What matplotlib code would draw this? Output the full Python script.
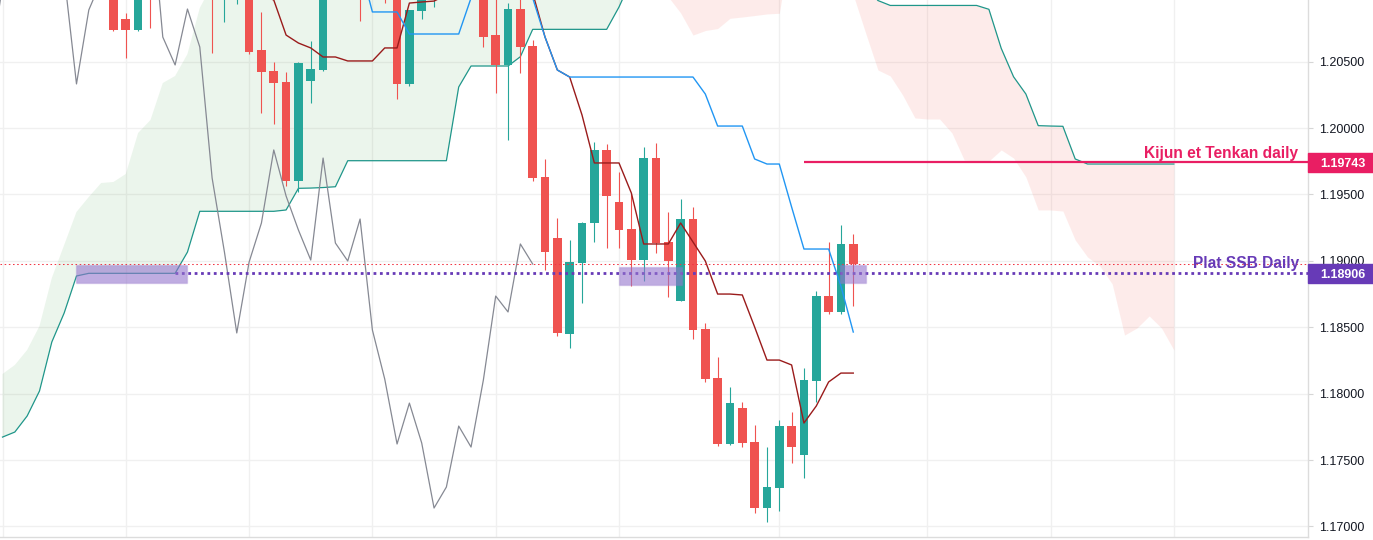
import matplotlib.pyplot as plt
from matplotlib.patches import Rectangle
import numpy as np

plt.rcParams['font.family'] = ['Liberation Sans', 'DejaVu Sans']

# daily EURUSD bars, bar index 9..69 (older bars sit above the visible range)
first_bar = 9
opens = [1.21077, 1.20821, 1.20738, 1.21115, 1.21002, 1.21341, 1.21792, 1.21416, 1.21679, 1.21077,
         1.21378, 1.21491, 1.20584, 1.20429, 1.20347, 1.19601, 1.20354, 1.20437, 1.21077, 1.21265,
         1.21115, 1.21002, 1.21341, 1.21152, 1.20332, 1.20881, 1.21107, 1.21303, 1.21717, 1.21566,
         1.21717, 1.20700, 1.20475, 1.20896, 1.20618, 1.19631, 1.19172, 1.18449, 1.18984, 1.19285,
         1.19835, 1.19443, 1.19240, 1.19006, 1.19774, 1.19142, 1.18698, 1.19315, 1.18487, 1.18118,
         1.17621, 1.17892, 1.17636, 1.17139, 1.17289, 1.17756, 1.17538, 1.18095, 1.18735, 1.18615,
         1.19127]
highs = [1.21190, 1.20866, 1.21152, 1.21228, 1.21416, 1.21898, 1.21838, 1.21762, 1.21687, 1.21491,
         1.21551, 1.21506, 1.20874, 1.20497, 1.20422, 1.20497, 1.20655, 1.21265, 1.21341, 1.21303,
         1.21228, 1.21446, 1.21687, 1.21190, 1.20889, 1.21190, 1.21416, 1.21792, 1.21830, 1.22432,
         1.21853, 1.21077, 1.20941, 1.21130, 1.20663, 1.19767, 1.19323, 1.19157, 1.19292, 1.19895,
         1.19880, 1.19669, 1.19511, 1.19857, 1.19887, 1.19368, 1.19466, 1.19405, 1.18532, 1.18276,
         1.18050, 1.17937, 1.17764, 1.17598, 1.17801, 1.17862, 1.18193, 1.18773, 1.19142, 1.19270,
         1.19202]
lows = [1.20731, 1.20527, 1.20731, 1.20753, 1.20979, 1.21303, 1.21265, 1.21341, 1.20568, 1.20798,
        1.20934, 1.20557, 1.20113, 1.20030, 1.19563, 1.19518, 1.20188, 1.20429, 1.21024, 1.21039,
        1.20806, 1.20979, 1.20941, 1.20219, 1.20316, 1.20821, 1.20911, 1.21190, 1.21416, 1.21491,
        1.20610, 1.20264, 1.19910, 1.20414, 1.19601, 1.18931, 1.18434, 1.18344, 1.18682, 1.19142,
        1.19097, 1.19097, 1.18810, 1.18848, 1.19059, 1.18728, 1.18698, 1.18411, 1.18088, 1.17606,
        1.17613, 1.17598, 1.17101, 1.17033, 1.17116, 1.17478, 1.17365, 1.17937, 1.18600, 1.18600,
        1.18660]
closes = [1.20738, 1.20738, 1.21039, 1.21002, 1.21341, 1.21792, 1.21416, 1.21679, 1.21077, 1.21378,
          1.21491, 1.20576, 1.20422, 1.20339, 1.19601, 1.20490, 1.20444, 1.21077, 1.21265, 1.21115,
          1.21002, 1.21341, 1.21152, 1.20332, 1.20889, 1.21107, 1.21303, 1.21717, 1.21566, 1.21717,
          1.20685, 1.20475, 1.20896, 1.20610, 1.19624, 1.19066, 1.18457, 1.18991, 1.19285, 1.19835,
          1.19488, 1.19232, 1.19006, 1.19774, 1.19134, 1.18999, 1.19315, 1.18479, 1.18110, 1.17621,
          1.17929, 1.17628, 1.17139, 1.17297, 1.17756, 1.17598, 1.18103, 1.18735, 1.18615, 1.19127,
          1.18976]

# ichimoku lines
tenkan_start = 20
tenkan = [1.21190, 1.21002, 1.20964, 1.20700, 1.20640, 1.20603, 1.20535, 1.20535, 1.20505, 1.20505,
          1.20505, 1.20603, 1.20603, 1.20941, 1.20949, 1.20956, 1.21002, 1.21024, 1.21325, 1.21325,
          1.21325, 1.21175, 1.21175, 1.21017, 1.20685, 1.20437, 1.20384, 1.20098, 1.19737, 1.19737,
          1.19737, 1.19511, 1.19127, 1.19127, 1.19127, 1.19285, 1.19142, 1.18999, 1.18750, 1.18750,
          1.18743, 1.18502, 1.18253, 1.18253, 1.18216, 1.17779, 1.17907, 1.18088, 1.18155, 1.18155]
kijun_start = 27
kijun = [1.21566, 1.21469, 1.21228, 1.20874, 1.20874, 1.20874, 1.20708, 1.20708, 1.20708, 1.20708,
         1.20708, 1.20979, 1.20979, 1.20979, 1.20979, 1.20979, 1.20979, 1.20685, 1.20437, 1.20384,
         1.20384, 1.20384, 1.20384, 1.20384, 1.20384, 1.20384, 1.20384, 1.20384, 1.20384, 1.20384,
         1.20256, 1.20015, 1.20015, 1.20015, 1.19767, 1.19729, 1.19729, 1.19405, 1.19089, 1.19089,
         1.19089, 1.18810, 1.18464]
chikou_shift = 26

# cloud spans, already shifted 26 bars forward (index 0..95)
span_a = [1.18148, 1.18216, 1.18329, 1.18509, 1.18871, 1.19119, 1.19368, 1.19481, 1.19586, 1.19594,
          1.19654, 1.19963, 1.20060, 1.20339, 1.20392, 1.20557, 1.20904, 1.21077, 1.21303, 1.21491,
          1.21642, 1.21717, 1.21755, 1.21792, 1.21807, 1.21830, 1.21853, 1.21868, 1.21868, 1.21853,
          1.21830, 1.21792, 1.21777, 1.21755, 1.21717, 1.21717, 1.21702, 1.21679, 1.21679, 1.21657,
          1.21642, 1.21642, 1.21627, 1.21604, 1.21566, 1.21551, 1.21529, 1.21491, 1.21461, 1.21431,
          1.21401, 1.21341, 1.21228, 1.21054, 1.20987, 1.20866, 1.20700, 1.20734, 1.20749, 1.20826,
          1.20836, 1.20847, 1.20859, 1.20864, 1.21416, 1.21152, 1.21077, 1.21077, 1.21077, 1.21002,
          1.20716, 1.20437, 1.20392, 1.20249, 1.20076, 1.20068, 1.20068, 1.19963, 1.19759, 1.19752,
          1.19752, 1.19835, 1.19774, 1.19631, 1.19383, 1.19383, 1.19375, 1.19157, 1.19029, 1.18961,
          1.18826, 1.18441, 1.18494, 1.18585, 1.18494, 1.18329]
span_b = [1.17673, 1.17711, 1.17832, 1.18020, 1.18389, 1.18607, 1.18886, 1.18906, 1.18906, 1.18906,
          1.18906, 1.18906, 1.18906, 1.18906, 1.18906, 1.19066, 1.19373, 1.19373, 1.19373, 1.19373,
          1.19373, 1.19373, 1.19373, 1.19383, 1.19546, 1.19548, 1.19552, 1.19558, 1.19754, 1.19754,
          1.19754, 1.19754, 1.19754, 1.19754, 1.19754, 1.19754, 1.19754, 1.20309, 1.20467, 1.20467,
          1.20467, 1.20467, 1.20537, 1.20743, 1.20743, 1.20743, 1.20743, 1.20743, 1.20743, 1.20743,
          1.20911, 1.21115, 1.21265, 1.21416, 1.21566, 1.21566, 1.21566, 1.21566, 1.21566, 1.21566,
          1.21566, 1.21566, 1.21566, 1.21566, 1.21566, 1.21566, 1.21566, 1.21416, 1.21303, 1.21190,
          1.21077, 1.20960, 1.20923, 1.20923, 1.20923, 1.20923, 1.20923, 1.20923, 1.20923, 1.20923,
          1.20894, 1.20600, 1.20386, 1.20256, 1.20018, 1.20015, 1.20013, 1.19767, 1.19729, 1.19729,
          1.19729, 1.19729, 1.19729, 1.19729, 1.19729, 1.19729]

# drawings
ssb_level = 1.18906
ssb_from = 14
kt_level = 1.19743
kt_from = 65
zone_starts = [6.0, 50.0, 67.9]
zone_ends = [15.0, 55.1, 70.0]
zone_tops = [1.18966, 1.18951, 1.18966]
zone_bottoms = [1.18831, 1.18816, 1.18831]

price_ticks = [1.170, 1.175, 1.180, 1.185, 1.190, 1.195, 1.200, 1.205]
time_grid = [0, 10, 20, 30, 40, 50, 63, 75, 85, 95]

UP = '#26a69a'
DOWN = '#ef5350'

fig = plt.figure(figsize=(13.73, 5.40), dpi=100)
ax = fig.add_axes([0, 3.3 / 540, 1308 / 1373, 536.7 / 540])
x_max = 105.88
ax.set_xlim(-0.203, x_max)
ax.set_ylim(1.16923, 1.20964)

# cloud
k = np.arange(len(span_a))
a = np.array(span_a)
b = np.array(span_b)
ax.fill_between(k, a, b, where=a >= b, interpolate=True,
                color=(67 / 255, 160 / 255, 71 / 255, 0.1), lw=0, zorder=1)
ax.fill_between(k, a, b, where=a < b, interpolate=True,
                color=(244 / 255, 67 / 255, 54 / 255, 0.1), lw=0, zorder=1)
ax.plot(k, b, color='#1f968a', lw=0.9, zorder=3)

# candles
bars = np.arange(first_bar, first_bar + len(opens))
o = np.array(opens)
h = np.array(highs)
l = np.array(lows)
c = np.array(closes)
cols = np.where(c >= o, UP, DOWN)
ax.vlines(bars, l, h, colors=cols, lw=0.8, zorder=4)
ax.bar(bars, np.abs(c - o), bottom=np.minimum(o, c), width=0.7, color=cols, lw=0, zorder=5)

# lagging span, conversion and base lines
ax.plot(bars - chikou_shift, c, color='#868993', lw=0.9, zorder=6)
ax.plot(np.arange(tenkan_start, tenkan_start + len(tenkan)), tenkan, color='#9a1b1b', lw=1.0, zorder=7)
ax.plot(np.arange(kijun_start, kijun_start + len(kijun)), kijun, color='#2196f3', lw=1.0, zorder=8)

# last price line
ax.axhline(c[-1], color='#f23645', lw=0.75, ls=(0, (1.5, 2.5)), zorder=9)

# user drawings
ax.hlines(ssb_level, ssb_from, x_max, color='#673ab7', lw=2, ls=(0, (1, 1.3)), zorder=10)
ax.hlines(kt_level, kt_from, x_max, color='#e91e63', lw=1.6, zorder=10)
for x0, x1, y1, y0 in zip(zone_starts, zone_ends, zone_tops, zone_bottoms):
    ax.add_patch(Rectangle((x0, y0), x1 - x0, y1 - y0,
                           fc=(149 / 255, 117 / 255, 205 / 255, 0.6),
                           ec=(149 / 255, 117 / 255, 205 / 255, 0.25), lw=1, zorder=11))
ax.text(105.07, kt_level + 0.00032, 'Kijun et Tenkan daily', ha='right', va='baseline',
        color='#e91e63', fontsize=11.2, fontweight='bold', zorder=12)
ax.text(105.15, ssb_level + 0.00038, 'Plat SSB Daily', ha='right', va='baseline',
        color='#673ab7', fontsize=11.2, fontweight='bold', zorder=12)

# grid and axes
ax.set_xticks(time_grid)
ax.set_yticks(price_ticks)
ax.set_yticklabels([f'{p:.5f}' for p in price_ticks])
ax.grid(True, color='#f0f0f0', lw=1, zorder=0)
ax.set_axisbelow(True)
ax.yaxis.tick_right()
ax.tick_params(axis='x', length=0, labelbottom=False)
ax.tick_params(axis='y', length=3.6, width=0.8, color='#d6d6d6', pad=4.5,
               labelsize=9, labelcolor='#131722')
for side in ('top', 'left'):
    ax.spines[side].set_visible(False)
for side in ('right', 'bottom'):
    ax.spines[side].set_color('#dcdcdc')
    ax.spines[side].set_linewidth(1)

trans = ax.get_yaxis_transform()
ax.text(1.0 + 11.3 / 1308, 1.210, '1.21000', transform=trans, ha='left', va='center_baseline',
        fontsize=9, color='#131722', clip_on=False)

tag_w = 66 / 1308
tag_h = 0.00145
for level, col in [(kt_level, '#e91e63'), (ssb_level, '#673ab7')]:
    ax.add_patch(Rectangle((1.0, level - tag_h / 2), tag_w, tag_h, transform=trans,
                           color=col, clip_on=False, zorder=12))
    ax.text(1.0 + 35 / 1308, level, f'{level:.5f}', transform=trans, ha='center',
            va='center_baseline', color='white', fontsize=9, fontweight='bold',
            clip_on=False, zorder=13)

fig.savefig('out.png', dpi=100)
